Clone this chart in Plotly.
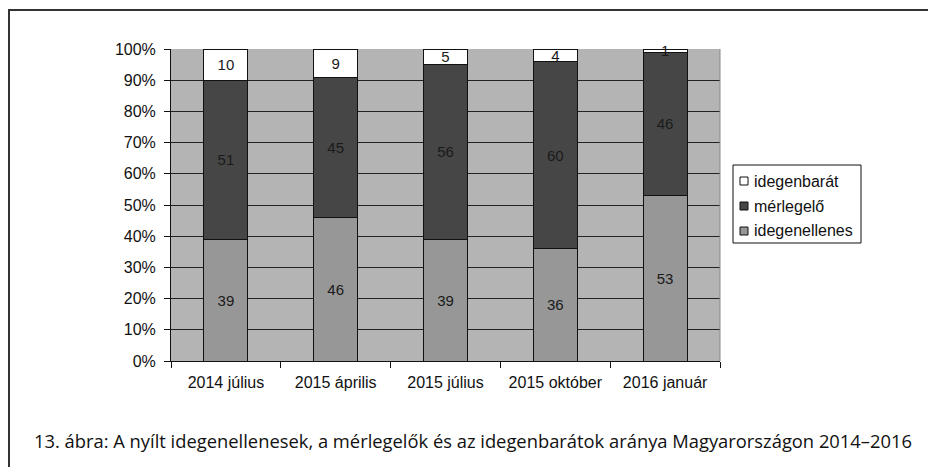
import plotly.graph_objects as go

categories = ["2014 július", "2015 április", "2015 július", "2015 október", "2016 január"]
idegenellenes = [39, 46, 39, 36, 53]
merlegelo = [51, 45, 56, 60, 46]
idegenbarat = [10, 9, 5, 4, 1]
y_ticks = [0, 10, 20, 30, 40, 50, 60, 70, 80, 90, 100]
y_tick_text = [f"{v}%" for v in y_ticks]
caption = "13. ábra: A nyílt idegenellenesek, a mérlegelők és az idegenbarátok aránya Magyarországon 2014–2016"

W, H = 928, 467
L, R, T, B = 171, 720, 49, 361


def px(x):
    return (x - L) / (R - L)


def py(y):
    return (B - y) / (B - T)


series = [
    ("idegenellenes", idegenellenes, "#979797"),
    ("mérlegelő", merlegelo, "#464646"),
    ("idegenbarát", idegenbarat, "#ffffff"),
]

fig = go.Figure()
for name, vals, col in series:
    fig.add_trace(go.Bar(
        x=categories, y=vals, name=name,
        marker=dict(color=col, line=dict(color="#111111", width=1)),
        text=[str(v) for v in vals], textposition="inside", textangle=0,
        insidetextanchor="middle", constraintext="none", cliponaxis=False,
        textfont=dict(family="Liberation Sans, Arial", size=15, color="#1a1a1a"),
        width=0.4, showlegend=False,
    ))

shapes = [
    dict(type="line", xref="paper", yref="paper",
         x0=px(9), x1=px(9), y0=py(10), y1=py(470),
         line=dict(color="#333333", width=2)),
    dict(type="line", xref="paper", yref="paper",
         x0=px(8), x1=px(930), y0=py(10), y1=py(10),
         line=dict(color="#333333", width=2)),
    dict(type="line", xref="paper", yref="paper",
         x0=1, x1=1, y0=0, y1=1,
         line=dict(color="#8a8a8a", width=1)),
    # legend box
    dict(type="rect", xref="paper", yref="paper",
         x0=px(733), x1=px(861), y0=py(165), y1=py(243),
         line=dict(color="#111111", width=1), fillcolor="white"),
]
annotations = [
    dict(text=caption, xref="paper", yref="paper",
         x=px(32), y=py(440), xanchor="left", yanchor="middle", showarrow=False,
         font=dict(family="Open Sans", size=18.35, color="#111111")),
]
legend_rows = [181, 206, 231]
for (name, vals, col), yc in zip(reversed(series), legend_rows):
    shapes.append(dict(type="rect", xref="paper", yref="paper",
                       x0=px(740), x1=px(748), y0=py(yc - 4), y1=py(yc + 4),
                       line=dict(color="#111111", width=1), fillcolor=col))
    annotations.append(dict(text=name, xref="paper", yref="paper",
                            x=px(752), y=py(yc), xanchor="left", yanchor="middle",
                            showarrow=False,
                            font=dict(family="Liberation Sans, Arial", size=16, color="#111111")))

fig.update_layout(
    barmode="stack",
    width=W, height=H,
    margin=dict(l=L, r=W - R, t=T, b=H - B, pad=0),
    paper_bgcolor="white",
    plot_bgcolor="#b4b4b4",
    font=dict(family="Liberation Sans, Arial", size=16, color="#111111"),
    showlegend=False,
    xaxis=dict(
        showgrid=False, showline=True, linecolor="#111111", linewidth=1,
        ticks="outside", tickson="boundaries", ticklen=6, tickcolor="#111111",
        tickfont=dict(size=16), zeroline=False, automargin=False,
        ticklabelstandoff=7,
    ),
    yaxis=dict(
        range=[0, 100], tickmode="array", tickvals=y_ticks, ticktext=y_tick_text,
        showgrid=True, gridcolor="#222222", gridwidth=1,
        showline=True, linecolor="#111111", linewidth=1,
        ticks="outside", ticklen=6, tickcolor="#111111",
        tickfont=dict(size=16), zeroline=False, automargin=False,
        ticklabelstandoff=5,
    ),
    shapes=shapes,
    annotations=annotations,
)

fig.write_html("out.html", config={"displayModeBar": False},
               post_script="document.body.style.margin='0';")
